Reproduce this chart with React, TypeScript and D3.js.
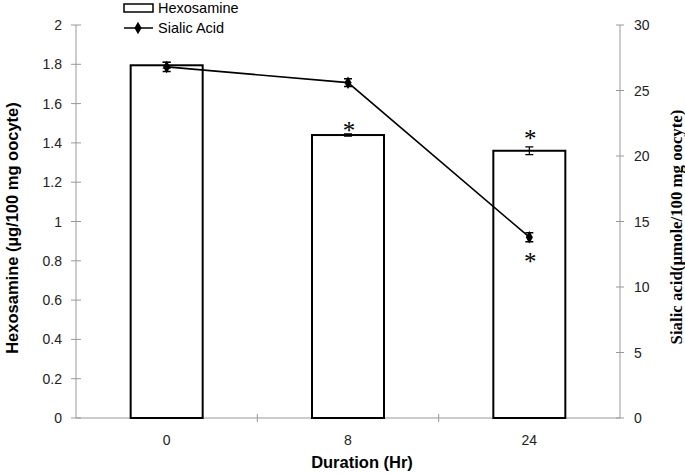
import React, { useEffect, useRef } from "react";
import * as d3 from "d3";

const durations = ["0", "8", "24"];
const hexosamine = [1.795, 1.44, 1.36];
const hexosamineErr = [0.015, 0.006, 0.02];
const sialicAcid = [26.8, 25.6, 13.8];
const sialicErr = [0.35, 0.3, 0.35];
const leftTicks = [0, 0.2, 0.4, 0.6, 0.8, 1, 1.2, 1.4, 1.6, 1.8, 2];
const rightTicks = [0, 5, 10, 15, 20, 25, 30];

function App() {
  const ref = useRef<SVGSVGElement>(null);

  useEffect(() => {
    const svg = d3.select(ref.current);
    svg.selectAll("*").remove();

    const left = 76,
      right = 620,
      top = 25,
      bottom = 418;
    const font = "Arial, 'Liberation Sans', sans-serif";
    const serif = "'Liberation Serif', 'Times New Roman', serif";

    const x = d3.scaleBand().domain(durations).range([left, right]);
    const yL = d3.scaleLinear().domain([0, 2]).range([bottom, top]);
    const yR = d3.scaleLinear().domain([0, 30]).range([bottom, top]);
    const cxOf = (d: string) => x(d)! + x.bandwidth() / 2;

    // axes
    const axisColor = "#999";
    svg.append("line")
      .attr("x1", left).attr("x2", left).attr("y1", top).attr("y2", bottom)
      .attr("stroke", axisColor);
    svg.append("line")
      .attr("x1", right).attr("x2", right).attr("y1", top).attr("y2", bottom)
      .attr("stroke", axisColor);
    svg.append("line")
      .attr("x1", left).attr("x2", right).attr("y1", bottom).attr("y2", bottom)
      .attr("stroke", axisColor);

    leftTicks.forEach((t) => {
      svg.append("line")
        .attr("x1", left - 5).attr("x2", left + 5)
        .attr("y1", yL(t)).attr("y2", yL(t))
        .attr("stroke", axisColor);
      svg.append("text")
        .attr("x", left - 14).attr("y", yL(t) + 5)
        .attr("text-anchor", "end")
        .attr("font-family", font).attr("font-size", 14)
        .attr("fill", "#222")
        .text(String(t));
    });

    rightTicks.forEach((t) => {
      svg.append("line")
        .attr("x1", right - 4).attr("x2", right + 4)
        .attr("y1", yR(t)).attr("y2", yR(t))
        .attr("stroke", axisColor);
      svg.append("text")
        .attr("x", right + 14).attr("y", yR(t) + 5)
        .attr("font-family", font).attr("font-size", 14)
        .attr("fill", "#222")
        .text(String(t));
    });

    // x ticks between categories
    durations.slice(1).forEach((d) => {
      svg.append("line")
        .attr("x1", x(d)!).attr("x2", x(d)!)
        .attr("y1", bottom - 4).attr("y2", bottom + 4)
        .attr("stroke", axisColor);
    });
    durations.forEach((d) => {
      svg.append("text")
        .attr("x", cxOf(d)).attr("y", bottom + 27)
        .attr("text-anchor", "middle")
        .attr("font-family", font).attr("font-size", 14)
        .attr("fill", "#222")
        .text(d);
    });

    // bars
    const bw = 72;
    durations.forEach((d, i) => {
      const cx = cxOf(d);
      svg.append("rect")
        .attr("x", cx - bw / 2).attr("y", yL(hexosamine[i]))
        .attr("width", bw).attr("height", bottom - yL(hexosamine[i]))
        .attr("fill", "white").attr("stroke", "black").attr("stroke-width", 2);
      const e1 = yL(hexosamine[i] + hexosamineErr[i]);
      const e2 = yL(hexosamine[i] - hexosamineErr[i]);
      svg.append("path")
        .attr("d", `M${cx - 4},${e1}H${cx + 4}M${cx},${e1}V${e2}M${cx - 4},${e2}H${cx + 4}`)
        .attr("stroke", "black").attr("stroke-width", 1.2).attr("fill", "none");
    });

    // line
    const line = d3.line<number>()
      .x((_, i) => cxOf(durations[i]))
      .y((v) => yR(v));
    svg.append("path")
      .datum(sialicAcid)
      .attr("d", line)
      .attr("fill", "none").attr("stroke", "black").attr("stroke-width", 1.6);

    const diamond = d3.symbol().type(d3.symbolDiamond).size(45);
    sialicAcid.forEach((v, i) => {
      const cx = cxOf(durations[i]);
      const e1 = yR(v + sialicErr[i]);
      const e2 = yR(v - sialicErr[i]);
      svg.append("path")
        .attr("d", `M${cx - 4},${e1}H${cx + 4}M${cx},${e1}V${e2}M${cx - 4},${e2}H${cx + 4}`)
        .attr("stroke", "black").attr("stroke-width", 1.5).attr("fill", "none");
      svg.append("path")
        .attr("d", diamond)
        .attr("transform", `translate(${cx},${yR(v)})`)
        .attr("fill", "black");
    });

    // significance asterisks
    const stars: [string, number][] = [
      ["8", yL(hexosamine[1]) - 5],
      ["24", yL(hexosamine[2] + hexosamineErr[2]) - 9],
      ["24", yR(sialicAcid[2]) + 24],
    ];
    stars.forEach(([d, yy]) => {
      svg.append("text")
        .attr("x", cxOf(d) + 1).attr("y", yy + 9)
        .attr("text-anchor", "middle")
        .attr("font-family", serif)
        .attr("font-size", 25)
        .text("*");
    });

    // axis titles
    svg.append("text")
      .attr("transform", `translate(18,${228}) rotate(-90)`)
      .attr("text-anchor", "middle")
      .attr("font-family", font).attr("font-size", 16.5).attr("font-weight", "bold")
      .text("Hexosamine (µg/100 mg oocyte)");
    svg.append("text")
      .attr("transform", `translate(682,227) rotate(-90)`)
      .attr("text-anchor", "middle")
      .attr("font-family", serif)
      .attr("font-size", 16.8).attr("font-weight", "bold")
      .text("Sialic acid(µmole/100 mg oocyte)");
    svg.append("text")
      .attr("x", 362).attr("y", 468)
      .attr("text-anchor", "middle")
      .attr("font-family", font).attr("font-size", 16.5).attr("font-weight", "bold")
      .text("Duration (Hr)");

    // legend
    svg.append("rect")
      .attr("x", 124).attr("y", 4).attr("width", 29).attr("height", 8)
      .attr("fill", "white").attr("stroke", "black").attr("stroke-width", 1.5);
    svg.append("text")
      .attr("x", 158).attr("y", 13)
      .attr("font-family", font).attr("font-size", 14.5)
      .text("Hexosamine");
    svg.append("line")
      .attr("x1", 124).attr("x2", 153).attr("y1", 28).attr("y2", 28)
      .attr("stroke", "black").attr("stroke-width", 1.5);
    svg.append("path")
      .attr("d", diamond)
      .attr("transform", "translate(138,28)")
      .attr("fill", "black");
    svg.append("text")
      .attr("x", 158).attr("y", 33)
      .attr("font-family", font).attr("font-size", 14.5)
      .text("Sialic Acid");
  }, []);

  return (
    <svg
      ref={ref}
      width={685}
      height={474}
      style={{ position: "absolute", left: 0, top: 0, background: "white" }}
    />
  );
}

export default App;
